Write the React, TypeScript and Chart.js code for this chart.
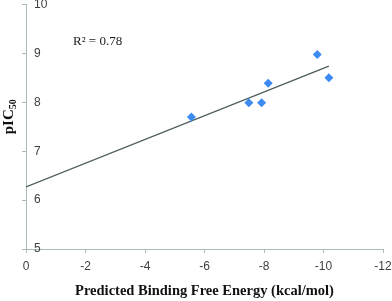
import React, { useEffect, useRef } from "react";
import { Chart, registerables } from "chart.js";

Chart.register(...registerables);

const energyValues = [-5.56, -7.49, -7.92, -8.14, -9.79, -10.18];
const pic50Values = [7.7, 7.99, 7.99, 8.39, 8.98, 8.5];
const trendX = [0, -10.18];
const trendY = [6.27, 8.74];
const xTickRange = [-12, 0];
const yTickRange = [5, 10];
const r2Label = "R\u00B2 = 0.78";
const r2Pos = [-1.58, 9.24];
const yTitleMain = "pIC";
const yTitleSub = "50";
const xTitle = "Predicted Binding Free Energy (kcal/mol)";

const annotationPlugin = {
  id: "r2text",
  afterDatasetsDraw(chart: any) {
    const { ctx, scales, chartArea } = chart;
    const x = scales.x.getPixelForValue(r2Pos[0]);
    const y = scales.y.getPixelForValue(r2Pos[1]);
    ctx.save();
    ctx.font = "13px 'Liberation Serif', serif";
    ctx.fillStyle = "#1a1a1a";
    ctx.textAlign = "left";
    ctx.textBaseline = "middle";
    ctx.fillText(r2Label, x, y);
    ctx.restore();

    // y axis title with subscript
    ctx.save();
    const cy = (chartArea.top + chartArea.bottom) / 2 - 10;
    const cx = 8;
    ctx.translate(cx, cy);
    ctx.rotate(-Math.PI / 2);
    const mainFont = "bold 15px 'Liberation Serif', serif";
    const subFont = "bold 10px 'Liberation Serif', serif";
    ctx.font = mainFont;
    const wMain = ctx.measureText(yTitleMain).width;
    ctx.font = subFont;
    const wSub = ctx.measureText(yTitleSub).width;
    const total = wMain + wSub;
    ctx.fillStyle = "#111";
    ctx.textAlign = "left";
    ctx.textBaseline = "alphabetic";
    ctx.font = mainFont;
    ctx.fillText(yTitleMain, -total / 2, 5);
    ctx.font = subFont;
    ctx.fillText(yTitleSub, -total / 2 + wMain, 8);
    ctx.restore();
  },
};

export default function App() {
  const ref = useRef<HTMLCanvasElement>(null);
  useEffect(() => {
    document.body.style.margin = "0";
    const chart = new Chart(ref.current!, {
      type: "scatter",
      data: {
        datasets: [
          {
            label: "Data",
            data: energyValues.map((x, i) => ({ x, y: pic50Values[i] })),
            pointStyle: "rectRot",
            pointRadius: 4.5,
            pointBackgroundColor: "#3d8af0",
            pointBorderColor: "#3d8af0",
            pointBorderWidth: 0,
            showLine: false,
          },
          {
            label: "Trend",
            data: trendX.map((x, i) => ({ x, y: trendY[i] })),
            showLine: true,
            borderColor: "#4d5c5c",
            borderWidth: 1.3,
            pointRadius: 0,
          },
        ],
      },
      options: {
        responsive: false,
        animation: false,
        layout: { padding: { top: 4, right: 0, left: 0, bottom: 0 } },
        plugins: { legend: { display: false }, tooltip: { enabled: false } },
        scales: {
          x: {
            type: "linear",
            reverse: true,
            min: xTickRange[0],
            max: xTickRange[1],
            afterFit: (s: any) => {
              s.height = 52;
              s.paddingLeft = 0;
              s.paddingRight = 9;
            },
            ticks: {
              stepSize: 2,
              padding: 6,
              color: "#404040",
              font: { family: "'Liberation Sans', sans-serif", size: 12 },
            },
            grid: {
              display: true,
              drawOnChartArea: false,
              drawTicks: true,
              tickLength: 4,
              color: "#a8bcbc",
            },
            border: { display: true, color: "#a8bcbc", width: 1 },
            title: {
              display: true,
              text: xTitle,
              color: "#111",
              font: { family: "'Liberation Serif', serif", size: 14.5, weight: "bold" },
              padding: { top: 7, bottom: 1 },
            },
          },
          y: {
            type: "linear",
            min: yTickRange[0],
            max: yTickRange[1],
            afterFit: (s: any) => {
              s.width = 26;
              s.paddingTop = 0;
              s.paddingBottom = 0;
            },
            ticks: {
              stepSize: 1,
              mirror: true,
              padding: 8,
              color: "#404040",
              font: { family: "'Liberation Sans', sans-serif", size: 12 },
            },
            grid: {
              display: true,
              drawOnChartArea: false,
              drawTicks: true,
              tickLength: 4,
              color: "#a8bcbc",
            },
            border: { display: true, color: "#a8bcbc", width: 1 },
            title: { display: false },
          },
        },
      },
      plugins: [annotationPlugin],
    });
    return () => chart.destroy();
  }, []);
  return (
    <div style={{ width: 392, height: 301 }}>
      <canvas ref={ref} width={392} height={301} style={{ display: "block" }} />
    </div>
  );
}
